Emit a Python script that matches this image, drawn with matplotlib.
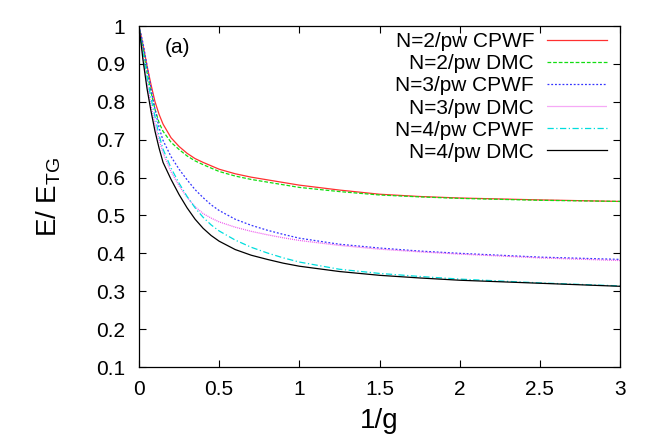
import matplotlib
matplotlib.use('Agg')
import matplotlib.pyplot as plt

plt.rcParams['font.family'] = ['Liberation Sans', 'DejaVu Sans']

# 1/g sample points
inv_g = [0, 0.025, 0.05, 0.075, 0.1, 0.125, 0.15, 0.2, 0.25, 0.3, 0.35, 0.4, 0.45, 0.5,
         0.6, 0.7, 0.8, 0.9, 1.0, 1.25, 1.5, 1.75, 2.0, 2.5, 3.0]

n2_cpwf = [1.0, 0.95, 0.895, 0.845, 0.80, 0.767, 0.741, 0.705, 0.682, 0.664, 0.65, 0.64, 0.631, 0.622,
           0.61, 0.601, 0.594, 0.587, 0.580, 0.567, 0.556, 0.55, 0.546, 0.541, 0.537]
n2_dmc = [1.0, 0.94, 0.878, 0.825, 0.78, 0.745, 0.722, 0.693, 0.674, 0.657, 0.644, 0.634, 0.625, 0.616,
          0.604, 0.595, 0.588, 0.581, 0.574, 0.563, 0.554, 0.549, 0.545, 0.540, 0.537]
n3_cpwf = [1.0, 0.955, 0.895, 0.835, 0.78, 0.732, 0.698, 0.655, 0.622, 0.594, 0.568, 0.547, 0.528, 0.513,
           0.49, 0.474, 0.461, 0.45, 0.44, 0.424, 0.414, 0.406, 0.40, 0.39, 0.384]
n3_dmc = [1.0, 0.92, 0.85, 0.79, 0.74, 0.70, 0.665, 0.615, 0.578, 0.548, 0.523, 0.505, 0.493, 0.483,
          0.469, 0.458, 0.449, 0.441, 0.434, 0.421, 0.411, 0.404, 0.398, 0.388, 0.381]
n4_cpwf = [1.0, 0.93, 0.865, 0.81, 0.76, 0.712, 0.675, 0.625, 0.585, 0.55, 0.52, 0.495, 0.475, 0.459,
           0.435, 0.416, 0.401, 0.388, 0.377, 0.358, 0.347, 0.339, 0.332, 0.322, 0.314]
n4_dmc = [1.0, 0.91, 0.835, 0.775, 0.722, 0.678, 0.64, 0.595, 0.555, 0.52, 0.49, 0.466, 0.447, 0.432,
          0.41, 0.395, 0.384, 0.374, 0.366, 0.352, 0.342, 0.335, 0.329, 0.321, 0.313]

labels = ['N=2/pw CPWF', 'N=2/pw DMC', 'N=3/pw CPWF',
          'N=3/pw DMC', 'N=4/pw CPWF', 'N=4/pw DMC']

xticks = [0, 0.5, 1, 1.5, 2, 2.5, 3]
xticklabels = ['0', '0.5', '1', '1.5', '2', '2.5', '3']
yticks = [0.1, 0.2, 0.3, 0.4, 0.5, 0.6, 0.7, 0.8, 0.9, 1.0]
yticklabels = ['0.1', '0.2', '0.3', '0.4', '0.5', '0.6', '0.7', '0.8', '0.9', '1']

fig = plt.figure(figsize=(6.54, 4.36), dpi=100)
ax = fig.add_axes([139/654, 1 - 367/436, (620 - 139)/654, (367 - 26)/436])

series = [n2_cpwf, n2_dmc, n3_cpwf, n3_dmc, n4_cpwf, n4_dmc]
colors = ['#ff3030', '#11dd11', '#3333ff', '#ee55ee', '#00dddd', 'black']
dashes = [None, (3, 1.5), (1.5, 1.5), (0.8, 0.8), (5, 2, 1, 2), None]

for y, lab, c, d in zip(series, labels, colors, dashes):
    line, = ax.plot(inv_g, y, color=c, lw=0.9, label=lab)
    if d is not None:
        line.set_dashes(d)

ax.set_xlim(0, 3)
ax.set_ylim(0.1, 1.0)
ax.set_xticks(xticks)
ax.set_xticklabels(xticklabels)
ax.set_yticks(yticks)
ax.set_yticklabels(yticklabels)
ax.tick_params(direction='in', length=5, width=0.8, top=True, right=True, labelsize=15)
ax.tick_params(axis='x', pad=9)
ax.tick_params(axis='y', pad=10)
for s in ax.spines.values():
    s.set_linewidth(0.9)

ax.set_xlabel('1/g', fontsize=20, labelpad=7)
ax.set_ylabel('E/ E$_\\mathregular{TG}$', fontsize=20, labelpad=24)
ax.text(0.16, 0.942, '(a)', fontsize=15, va='center')

leg = ax.legend(loc='upper right', bbox_to_anchor=(0.973, 0.982), markerfirst=False,
                frameon=False, fontsize=15, handlelength=2.9, handletextpad=0.6,
                labelspacing=0.15, borderaxespad=0, borderpad=0)
# right-align the legend text like gnuplot does
leg._legend_box._children[-1]._children[0].align = 'right'

fig.savefig('out.png', dpi=100)
